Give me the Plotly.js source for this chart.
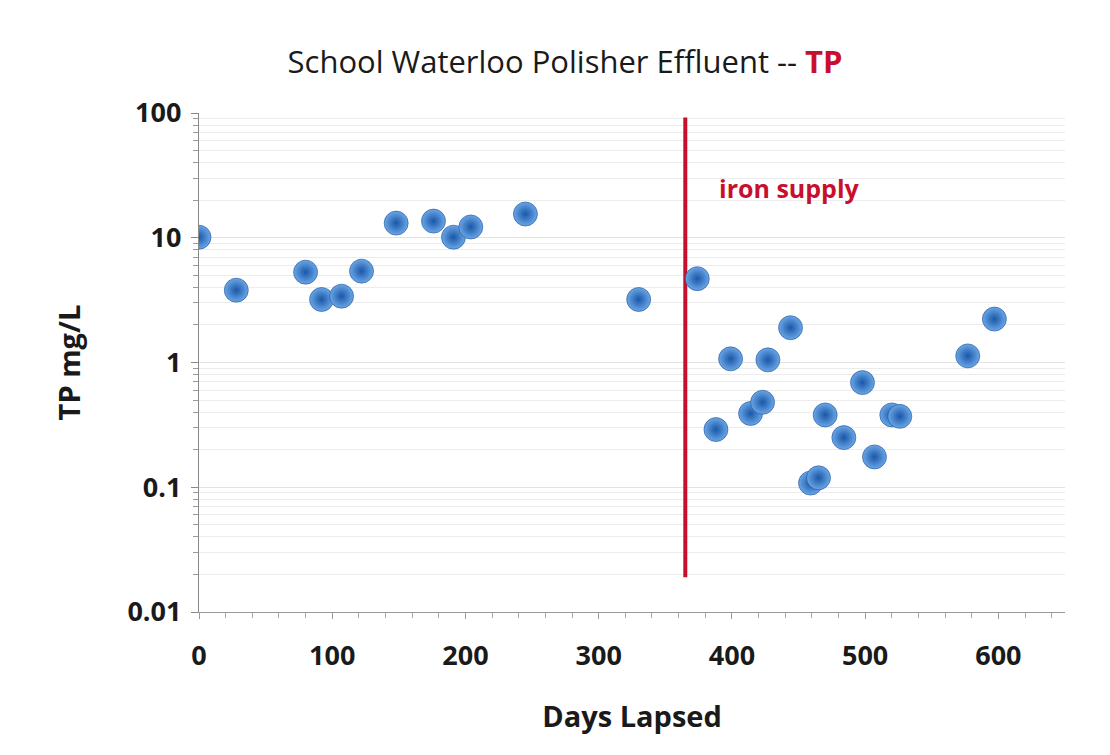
<!DOCTYPE html>
<html>
<head>
<meta charset="utf-8">
<script src="https://cdn.plot.ly/plotly-3.0.1.min.js"></script>
<style>html,body{margin:0;padding:0;background:#fff;}#chart{width:1110px;height:755px;}</style>
</head>
<body>
<div id="chart"></div>
<script>
// Days lapsed and TP concentration (mg/L)
const days = [0, 28, 80, 92, 107, 122, 148, 176, 191, 204, 245, 330, 374, 388, 399, 414, 423, 427, 444, 459, 465, 470, 484, 498, 507, 520, 526, 577, 597];
const tp   = [10.1, 3.8, 5.3, 3.2, 3.4, 5.4, 13.1, 13.6, 10.1, 12.2, 15.5, 3.2, 4.7, 0.29, 1.07, 0.39, 0.48, 1.05, 1.9, 0.108, 0.119, 0.38, 0.25, 0.69, 0.175, 0.38, 0.37, 1.13, 2.23];
// Iron supply start marker
const ironDay = [365, 365];
const ironRange = [0.019, 92];
const yTickVals = [0.01, 0.1, 1, 10, 100];
const yTickText = ['0.01', '0.1', '1', '10', '100'];
const xTickVals = [0, 100, 200, 300, 400, 500, 600];
const yMinorVals = [0.02,0.03,0.04,0.05,0.06,0.07,0.08,0.09,0.2,0.3,0.4,0.5,0.6,0.7,0.8,0.9,2,3,4,5,6,7,8,9,20,30,40,50,60,70,80,90];

const font = 'Open Sans, Noto Sans, Liberation Sans, sans-serif';
const red = '#c8102e';

const traces = [
  {
    x: ironDay, y: ironRange, mode: 'lines', type: 'scatter',
    line: {color: red, width: 4}, hoverinfo: 'skip', showlegend: false
  },
  {
    x: days, y: tp, mode: 'markers', type: 'scatter', showlegend: false,
    marker: {
      size: 24, color: '#6aa6e6',
      gradient: {type: 'radial', color: '#1a57a8'},
      line: {width: 0.6, color: '#1a4f96'}
    }
  }
];

const layout = {
  width: 1110, height: 755,
  margin: {l: 199, r: 45, t: 113, b: 143},
  paper_bgcolor: '#ffffff', plot_bgcolor: '#ffffff',
  showlegend: false,
  title: {
    text: 'School Waterloo Polisher Effluent -- <b><span style="color:' + red + '">TP</span></b>',
    font: {family: font, size: 31, color: '#1a1a1a'},
    x: 0.509, xanchor: 'center', y: 0.918, yanchor: 'middle'
  },
  xaxis: {
    range: [0, 650], tickvals: xTickVals, ticktext: xTickVals.map(String),
    showgrid: false, zeroline: false,
    showline: true, linecolor: '#9a9a9a', linewidth: 1,
    ticks: 'outside', ticklen: 6, tickcolor: '#9a9a9a', ticklabelstandoff: 14,
    minor: {dtick: 20, ticks: 'outside', ticklen: 5, tickcolor: '#aaaaaa', showgrid: false},
    tickfont: {family: font, size: 27, color: '#1a1a1a', weight: 'bold'},
    title: {text: '<b>Days Lapsed</b>', font: {family: font, size: 29, color: '#1a1a1a'}, standoff: 34}
  },
  yaxis: {
    type: 'log', range: [-2, 2],
    tickvals: yTickVals, ticktext: yTickText,
    showgrid: true, gridcolor: '#e2e2e2', gridwidth: 1,
    zeroline: false, showline: true, linecolor: '#8a8a8a', linewidth: 1.2,
    ticks: 'outside', ticklen: 7, tickcolor: '#8a8a8a', ticklabelstandoff: 4,
    minor: {tickvals: yMinorVals,
            ticks: 'outside', ticklen: 5, tickcolor: '#9a9a9a', showgrid: true, gridcolor: '#ececec', gridwidth: 1},
    tickfont: {family: font, size: 27, color: '#1a1a1a', weight: 'bold'},
    title: {text: '<b>TP mg/L</b>', font: {family: font, size: 29, color: '#1a1a1a'}, standoff: 38}
  },
  annotations: [
    {
      x: 389, y: Math.log10(25), xref: 'x', yref: 'y', xanchor: 'left', yanchor: 'middle',
      text: '<b>iron supply</b>', showarrow: false,
      font: {family: font, size: 25, color: red}
    }
  ]
};

Plotly.newPlot('chart', traces, layout, {displayModeBar: false, staticPlot: true});
</script>
</body>
</html>
